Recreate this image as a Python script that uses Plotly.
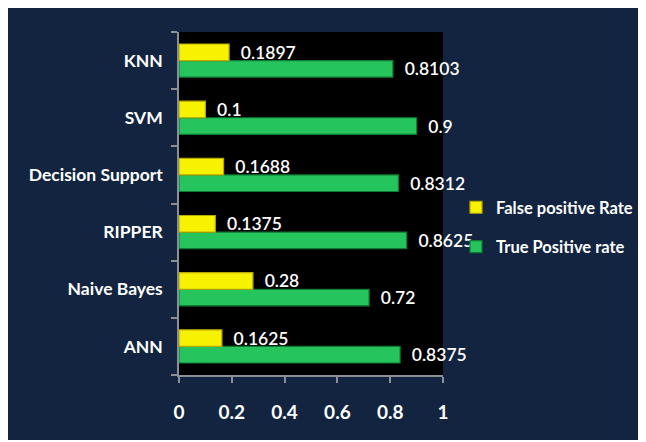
import plotly.graph_objects as go

categories = ["ANN", "Naive Bayes", "RIPPER", "Decision Support", "SVM", "KNN"]
false_positive_rate = [0.1625, 0.28, 0.1375, 0.1688, 0.1, 0.1897]
true_positive_rate = [0.8375, 0.72, 0.8625, 0.8312, 0.9, 0.8103]
fp_labels = ["0.1625", "0.28", "0.1375", "0.1688", "0.1", "0.1897"]
tp_labels = ["0.8375", "0.72", "0.8625", "0.8312", "0.9", "0.8103"]
x_ticks = [0, 0.2, 0.4, 0.6, 0.8, 1]
x_tick_text = ["0", "0.2", "0.4", "0.6", "0.8", "1"]

FONT = "Lato"
OX, OY = 8, 8          # page offset of the figure (body margin)
W, H = 646, 432
L, T, B = 179 - OX, 32 - OY, 65
R = W - L - 264
pw, ph = W - L - R, H - T - B


def px_x(p):
    return (p - OX - L) / pw


def px_y(p):
    return (H - B - (p - OY)) / ph


fig = go.Figure()
fig.add_trace(go.Bar(
    y=categories, x=true_positive_rate, orientation="h",
    name="True Positive rate", legendgroup="tp", legendrank=2,
    marker=dict(color="#25c45c", line=dict(color="#0f7a35", width=1.2)),
    text=["  " + t for t in tp_labels], textposition="outside",
    textfont=dict(family=FONT, size=17.5, color="white", weight=600),
    constraintext="none", cliponaxis=False,
))
fig.add_trace(go.Bar(
    y=categories, x=false_positive_rate, orientation="h",
    name="False positive Rate", legendgroup="fp", legendrank=1,
    marker=dict(color="#f7f200", line=dict(color="#b8a800", width=1.2)),
    text=["  " + t for t in fp_labels], textposition="outside",
    textfont=dict(family=FONT, size=17.5, color="white", weight=600),
    constraintext="none", cliponaxis=False,
))

fig.update_layout(
    width=W, height=H,
    margin=dict(l=L, r=R, t=T, b=B, pad=0, autoexpand=False),
    paper_bgcolor="#12243f",
    plot_bgcolor="black",
    barmode="group",
    bargap=0.42,
    bargroupgap=0.0,
    font=dict(family=FONT, color="white"),
    showlegend=True,
    legend=dict(
        x=px_x(456), xanchor="left", y=px_y(190), yanchor="top",
        traceorder="grouped", tracegroupgap=15,
        font=dict(family=FONT, size=16.5, color="white", weight="bold"),
        bgcolor="rgba(0,0,0,0)", itemwidth=30,
    ),
    xaxis=dict(
        range=[0, 1], tickvals=x_ticks, ticktext=x_tick_text,
        showgrid=False, zeroline=False,
        showline=True, linecolor="#8a8f99", linewidth=1.5,
        ticks="outside", ticklen=6, tickcolor="#8a8f99", tickwidth=1.5,
        tickfont=dict(family=FONT, size=19, color="white", weight="bold"),
        ticklabelstandoff=13,
        fixedrange=True,
    ),
    yaxis=dict(
        showgrid=False, zeroline=False,
        showline=True, linecolor="#8a8f99", linewidth=1.5,
        ticks="outside", ticklen=6, tickcolor="#8a8f99", tickwidth=1.5,
        tickson="boundaries",
        tickfont=dict(family=FONT, size=17.5, color="white", weight="bold"),
        ticklabelstandoff=11,
        fixedrange=True,
    ),
)

fig.write_html("out.html")
